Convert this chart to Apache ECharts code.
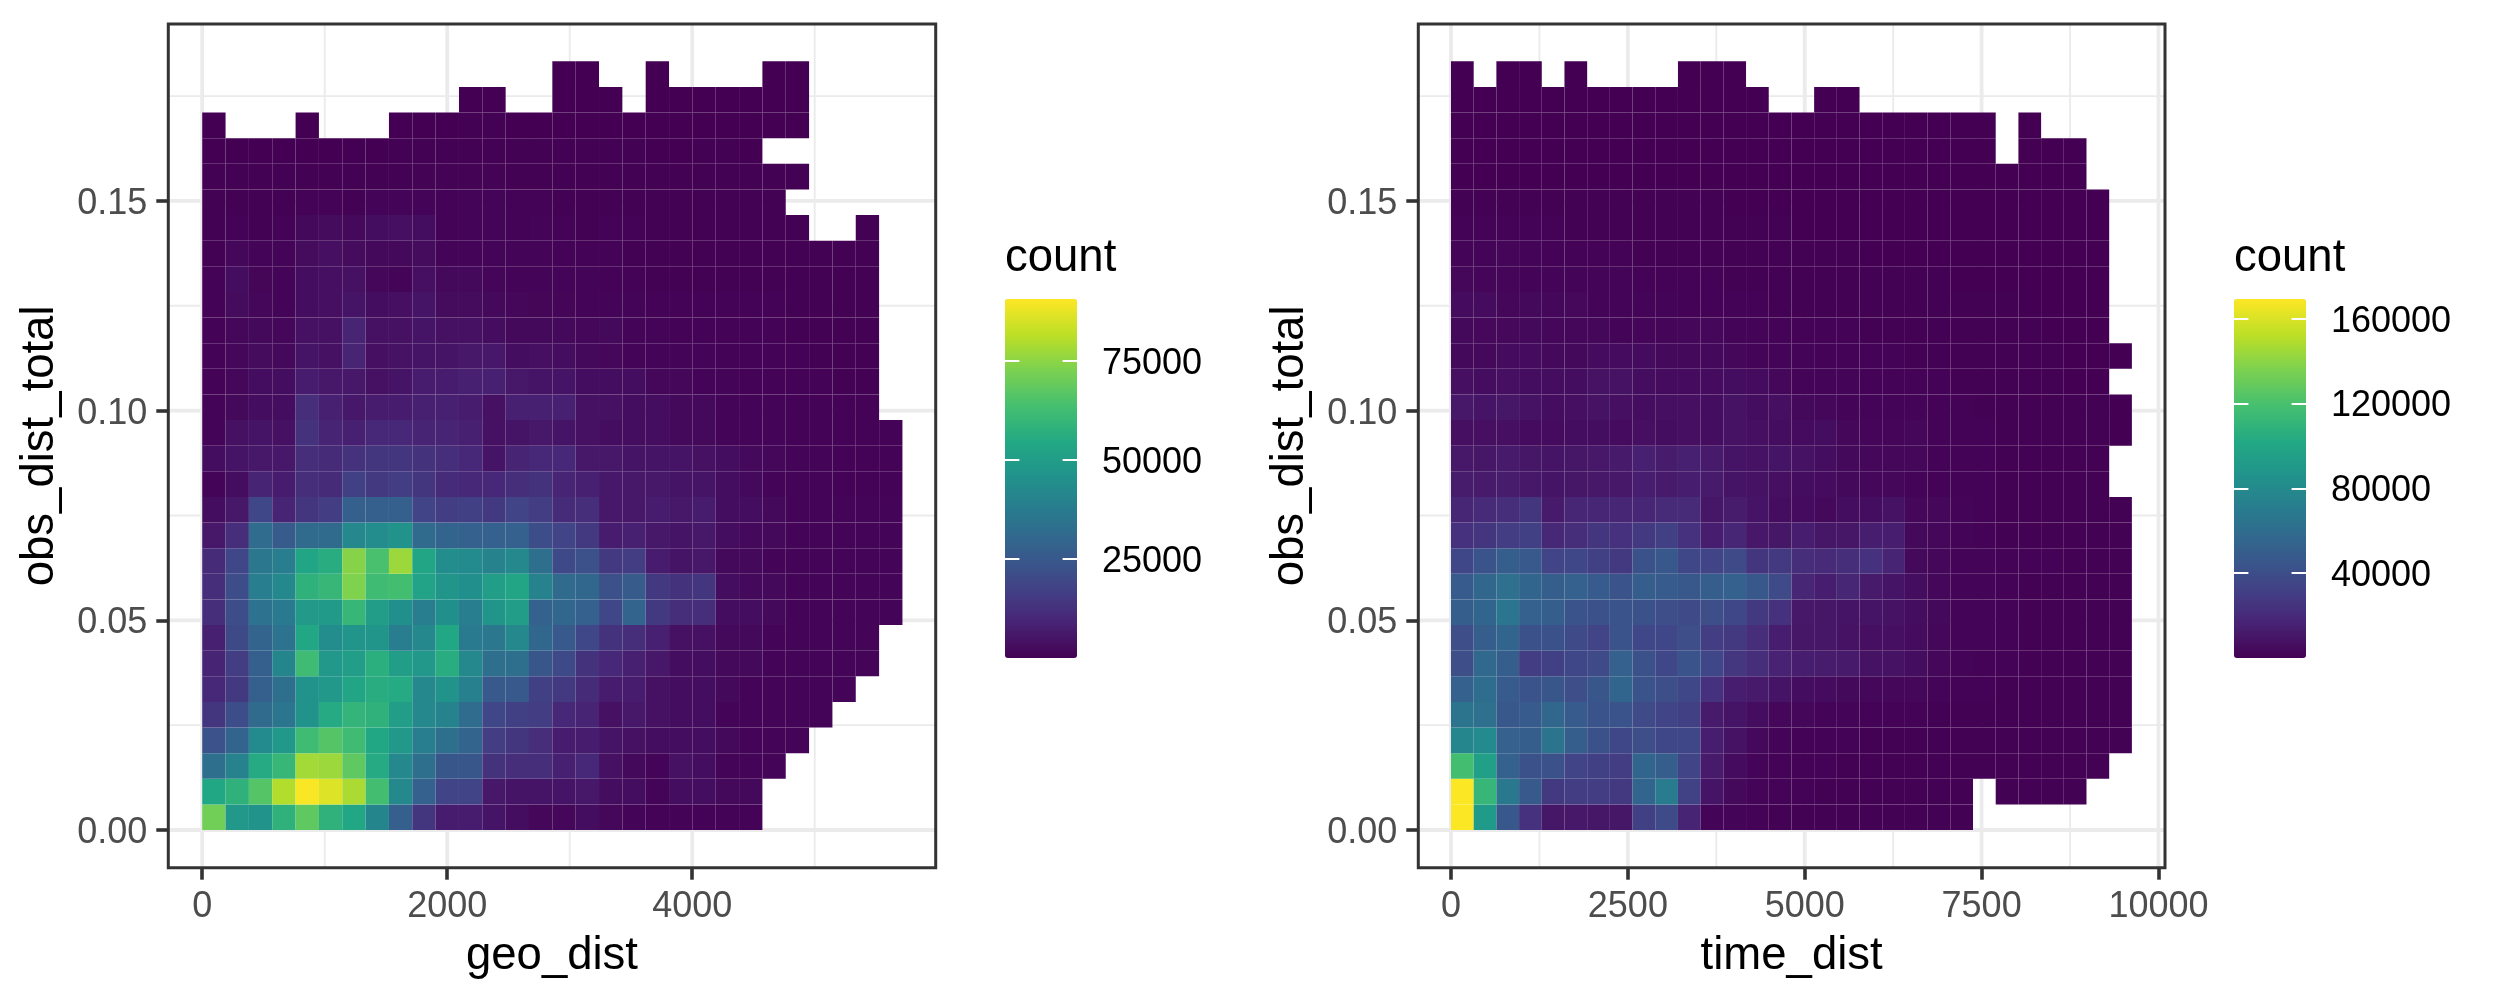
<!DOCTYPE html>
<html><head><meta charset="utf-8">
<style>html,body{margin:0;padding:0;background:#fff}#c{width:2500px;height:999px}</style>
<script src="https://cdn.jsdelivr.net/npm/echarts@6/dist/echarts.min.js"></script>
</head><body><div id="c"></div>
<script>
// counts in thousands; index = x-bin, row number = y-bin counted from the bottom
const geoRow00=[71,48,46,58,68,58,54,41,27,14,7,7,5,3,1.5,1.5,3,1.5,1,.5,.5,.5,.5,.5];
const geoRow01=[54,58,66,80,90,86,79,63,42,28,18,18,6,5,5,5,6,3,3,1,3,3,2,2];
const geoRow02=[33,40,55,60,78,77,68,55,42,33,24,24,13,12,12,8,10,4,2,1,4,3,1,1,1];
const geoRow03=[23,29,43,48,62,66,62,54,48,38,33,29,16,14,12,7,7,5,4,3,3,3,2,1,1,1];
const geoRow04=[14,21,31,35,46,55,59,58,50,42,40,32,19,17,16,10,9,4,6,4,3,3,1,1,1,1,1];
const geoRow05=[10,15,27,33,46,48,53,56,55,42,46,39,25,25,17,15,11,7,7,4,3,3,2,1,1,1,1,1];
const geoRow06=[9,16,27,41,62,48,50,57,50,48,56,42,33,33,24,20,13,10,8,6,3,3,2,2,1,1,1,1,1];
const geoRow07=[8,20,29,34,54,44,47,47,38,42,54,37,36,42,30,25,19,13,12,8,4,4,2,2,1,1,1,1,1];
const geoRow08=[12,21,34,37,49,49,60,50,45,38,45,38,47,50,28,30,28,19,29,15,12,12,3,3,2,1,1,1,1,1];
const geoRow09=[12,21,38,42,58,60,73,62,63,52,47,45,50,53,40,31,30,22,26,15,13,14,3,2,2,1,1,1,1,1];
const geoRow10=[11,19,36,38,53,56,74,64,77,53,44,43,40,42,33,20,22,15,16,7,5,6,2,2,1,1,1,1,1,1];
const geoRow11=[6,12,32,26,31,31,42,44,46,31,29,28,28,28,21,18,15,7,8,6,5,6,3,2,2,1,1,1,1,1];
const geoRow12=[3,6,19,9,14,16,27,27,27,18,16,17,15,18,16,11,12,6,6,7,6,7,3,3,2,1,1,1,1,1];
const geoRow13=[1,3,9,7,12,11,17,15,16,14,11,10,10,12,13,9,8,6,6,6,5,5,3,2,1,1,1,.5,.5,.5];
const geoRow14=[3,5,6,6,12,11,13,14,14,13,12,10,5,9,10,10,6,6,5,5,5,4,3,2,1.5,1,1,.5,.5,.5];
const geoRow15=[1,4,5,4,13,9,8,10,10,9,9,8,4,5,6,5,4,3,3,3,2,2,1,1,1,.5,.5,.5,.5,.5];
const geoRow16=[1,2,3,3,12,8,6,7,7,8,8,7,4,8,8,8,4,4,3,3,2,2,1,1,1,.5,.5,.5,.5];
const geoRow17=[.5,1.5,3,3,7,6,6,4,5,7,7,8,8,6,5,5,3,3,3,1.5,1.5,1,1,.5,.5,.5,.5,.3,.3];
const geoRow18=[.5,1.5,2.5,2,5,4,9,3.5,4.5,5,5,6,6,3,3.5,3,2,1.5,1,.7,.7,.7,.5,.5,.5,.5,.3,.3,.3];
const geoRow19=[.5,1.5,2,1.5,4,4,9,4,4,5,4,4,3,2,2,2,1.5,2,.7,.7,.5,.5,.5,.5,.5,.3,.3,.3,.3];
const geoRow20=[.5,2.5,1.5,1,3,3.5,5,3,3.5,5,2.5,2.5,2,1.5,1.2,1.2,1,.7,.7,.5,.5,.5,.5,.5,.5,.3,.3,.3,.3];
const geoRow21=[.5,3,1.2,1,3,3.5,4,1.5,1,3.5,2,2,1.3,1,1,.7,.7,.5,.5,.3,.3,.3,.3,.3,.3,.3,.3,.3,.3];
const geoRow22=[.3,1.5,.8,1,2.5,3.5,2.5,2,2,2.5,1,1,.8,.7,.7,.5,.5,.5,.3,.3,.3,.3,.3,.3,.3,.3,.3,.3,.3];
const geoRow23=[.3,.5,.3,.5,2,2.5,2,3,3.5,3,.5,1,1,.5,1,.5,.3,.5,.5,.3,.3,.3,.3,.3,.3,.3,null,null,.3];
const geoRow24=[.3,.3,.2,.3,.5,.5,.3,.7,1,.8,.6,.7,.7,.5,.5,.3,.3,.3,.3,.3,.3,.3,.3,.3,.3];
const geoRow25=[.2,.2,.2,.2,.2,.2,.2,.3,.3,.4,.4,.4,.4,.3,.3,.3,.2,.2,.2,.2,.2,.2,.2,.2,.3,.2];
const geoRow26=[.1,.1,.1,.1,.1,.1,.1,.1,.2,.2,.2,.2,.2,.2,.2,.2,.2,.2,.2,.1,.1,.2,.2,.1];
const geoRow27=[.1,null,null,null,.1,null,null,null,.1,.1,.1,.2,.2,.1,.1,.1,.1,.1,.1,.1,.1,.1,.1,.1,.1,.1];
const geoRow28=[null,null,null,null,null,null,null,null,null,null,null,.1,.1,null,null,.1,.1,.1,null,.1,.1,.1,.1,.1,.1,.1];
const geoRow29=[null,null,null,null,null,null,null,null,null,null,null,null,null,null,null,.1,.1,null,null,.1,null,null,null,null,.1,.1];
const geoRows=[geoRow00,geoRow01,geoRow02,geoRow03,geoRow04,geoRow05,geoRow06,geoRow07,geoRow08,geoRow09,geoRow10,geoRow11,geoRow12,geoRow13,geoRow14,geoRow15,geoRow16,geoRow17,geoRow18,geoRow19,geoRow20,geoRow21,geoRow22,geoRow23,geoRow24,geoRow25,geoRow26,geoRow27,geoRow28,geoRow29];

const timeRow00=[169,92,46,24,10,11,10,10,32,38,17,2,2,1,.5,.5,.5,.5,.5,.5,.5,.5,.5];
const timeRow01=[169,112,68,47,28,30,30,28,55,70,33,9,4,2,1,1,.5,.5,.5,.5,.5,.5,.5,null,.3,.3,.3,.3];
const timeRow02=[118,95,52,42,42,34,32,30,55,50,34,12,5,2,1,1,1,.5,.5,.5,.5,.5,.5,.5,.5,.3,.3,.3,.3];
const timeRow03=[78,80,52,50,64,50,42,36,40,36,36,14,8,4,2,1,1,1,.5,.5,.5,.5,.5,.5,.5,.5,.3,.3,.3,.3];
const timeRow04=[64,62,46,48,56,48,44,44,38,34,32,12,9,6,3,3,2,1.5,1,1,1,.5,.5,.5,.5,.5,.5,.3,.3,.3];
const timeRow05=[52,60,48,44,45,40,45,55,44,40,36,24,14,12,9,6,5,4,3,3,3,1.5,1,1,.5,.5,.5,.5,.3,.3];
const timeRow06=[40,57,50,30,32,36,38,52,42,36,44,36,27,22,16,14,13,12,8,8,6,3,2,1,1,.5,.5,.5,.3,.3];
const timeRow07=[40,50,55,42,42,38,34,44,36,36,40,30,28,22,14,10,10,8,7,7,5,3,2,1.5,1,.5,.5,.5,.3,.3];
const timeRow08=[50,55,66,52,50,44,42,44,42,40,38,40,36,28,24,11,10,9,9,8,6,4,2,2,1,.5,.5,.5,.3,.3];
const timeRow09=[48,56,62,55,50,52,48,44,50,48,46,50,52,46,38,18,14,18,12,9,6,3,2,1.5,1,.5,.5,.5,.3,.3];
const timeRow10=[36,44,50,47,34,36,32,28,42,46,36,34,38,26,28,22,20,22,24,17,4,3,2,1.5,1,1,1,.5,.3,.3];
const timeRow11=[24,26,30,32,19,22,26,24,28,32,24,14,18,11,10,14,10,10,14,14,4,3,2,1,.5,.5,.5,.5,.3,.3];
const timeRow12=[18,20,22,26,12,18,18,18,18,20,20,10,13,9,6,5,4,6,6,8,3,3,2,1,.5,.5,.5,.5,.3,.3];
const timeRow13=[13,12,13,11,9,10,11,11,14,12,14,12,9,8,7,6,5,4,3,3,2,1,1,1,.5,.5,.5,.3,.3];
const timeRow14=[11,10,12,10,9,10,11,12,15,13,15,12,9,8,9,8,6,4,3,3,3,1,1,1,.5,.5,.5,.3,.3];
const timeRow15=[7,7,7,5,5,6,6,5,7,6,7,6,8,7,6,5,6,3,2.5,2.5,3,1,1,1,.5,.5,.5,.3,.3,.2];
const timeRow16=[11,9,10,8,6,7,8,7,6,7,7,6,8,6,7,4,3,2,1.5,1.5,1.5,1,1,.5,.5,.5,.3,.3,.3,.2];
const timeRow17=[7,6,7,6,6,6,8,8,6,5,5,5,6,5,3,2,2,1.5,1,1,1,1,.5,.5,.5,.3,.3,.2,.2];
const timeRow18=[4,4,5,5,4,4,5,5,5,4,4,4,3,2,2,1.5,1,1,1,1,.5,.5,.5,.5,.3,.3,.3,.2,.2,.2];
const timeRow19=[4,3.5,3.5,4,3,3,3,2,2.5,2.5,3,3,2,1.5,1,1,1,1,.5,.5,.5,.5,.3,.3,.3,.3,.2,.2,.2];
const timeRow20=[5,5,3,4,3,3.5,2,1.5,1.5,1.5,1,1,1,1,.5,.5,.5,.5,.5,.5,.3,.3,.3,.3,.3,.2,.2,.2,.2];
const timeRow21=[3,2.5,2.5,2,2,2,1.5,1.5,1,1,1,1,.5,.5,.5,.5,.3,.3,.3,.3,.3,.3,.2,.2,.2,.2,.2,.2,.2];
const timeRow22=[1.5,1.5,2.5,1.5,1,1,1,1,.5,.5,.5,.5,.3,.3,.3,.3,.3,.3,.2,.2,.2,.2,.2,.2,.2,.2,.2,.2,.1];
const timeRow23=[1,1,1,1,1,.5,.5,.5,.5,.5,.5,.5,.3,.3,.3,.2,.2,.2,.2,.2,.2,.2,.2,.2,.2,.2,.1,.1,.1];
const timeRow24=[.5,.5,.5,.5,.5,.3,.3,.3,.3,.3,.3,.3,.2,.2,.2,.2,.2,.2,.2,.1,.1,.1,.1,.1,.1,.1,.1,.1,.1];
const timeRow25=[.2,.2,.2,.2,.2,.2,.2,.2,.2,.2,.2,.2,.1,.1,.1,.1,.1,.1,.1,.1,.1,.1,.1,.1,.1,.1,.1,.1];
const timeRow26=[.1,.1,.1,.1,.1,.1,.1,.1,.1,.1,.1,.1,.1,.1,.1,.1,.1,.1,.1,.1,.1,.1,.1,.1,null,.1,.1,.1];
const timeRow27=[.1,.1,.1,.1,.1,.1,.1,.1,.1,.1,.1,.1,.1,.1,.1,.1,.1,.1,.1,.1,.1,.1,.1,.1,null,.1];
const timeRow28=[.1,.1,.1,.1,.1,.1,.1,.1,.1,.1,.1,.1,.1,.1,null,null,.1,.1];
const timeRow29=[.1,null,.1,.1,null,.1,null,null,null,null,.1,.1,.1];
const timeRows=[timeRow00,timeRow01,timeRow02,timeRow03,timeRow04,timeRow05,timeRow06,timeRow07,timeRow08,timeRow09,timeRow10,timeRow11,timeRow12,timeRow13,timeRow14,timeRow15,timeRow16,timeRow17,timeRow18,timeRow19,timeRow20,timeRow21,timeRow22,timeRow23,timeRow24,timeRow25,timeRow26,timeRow27,timeRow28,timeRow29];

const geoTicks=[0,2000,4000], geoMinor=[1000,3000,5000];
const timeTicks=[0,2500,5000,7500,10000], timeMinor=[1250,3750,6250,8750];
const obsTicks=[0,0.05,0.10,0.15], obsMinor=[0.025,0.075,0.125,0.175];
const geoLegendTicks=[25000,50000,75000], timeLegendTicks=[40000,80000,120000,160000];
const geoBin=190.55, timeBin=320.8, obsBin=0.00611;
const geoMax=90550, timeMax=169300;
const viridis=['#440154','#482475','#414487','#355f8d','#2a788e','#21918c','#22a884','#44bf70','#7ad151','#bddf26','#fde725'];

const FONT='"Liberation Sans"';
const cells=rows=>{const d=[];rows.forEach((r,j)=>r.forEach((v,i)=>{if(v!==null)d.push([i,j,v*1000]);}));return d;};
const tiles=bin=>(params,api)=>{
  const i=api.value(0), j=api.value(1);
  const a=api.coord([i*bin,j*obsBin]), b=api.coord([(i+1)*bin,(j+1)*obsBin]);
  return {type:'rect',shape:{x:a[0],y:b[1],width:b[0]-a[0],height:a[1]-b[1]},style:{fill:api.visual('color')}};
};
const gridLines=(xMaj,xMin)=>[
  ...xMaj.map(v=>[0,v,3.8]),...xMin.map(v=>[0,v,1.9]),
  ...obsTicks.map(v=>[1,v,3.8]),...obsMinor.map(v=>[1,v,1.9])];
const renderGrid=(params,api)=>{
  const k=api.value(0),v=api.value(1),cs=params.coordSys;
  const p=api.coord(k===0?[v,0]:[0,v]);
  const shape=k===0?{x1:p[0],x2:p[0],y1:cs.y,y2:cs.y+cs.height}:{x1:cs.x,x2:cs.x+cs.width,y1:p[1],y2:p[1]};
  return {type:'line',shape,style:{stroke:'#ebebeb',lineWidth:api.value(2)}};
};
const shiftedLabel=(color,margin,ticks,fmt)=>({margin,customValues:ticks,
  formatter:v=>'{a|'+fmt(v)+'}',
  rich:{a:{fontFamily:FONT,fontSize:36,color,padding:[6,0,0,0]}}});
const panel=(idx,name,min,max,ticks,left,width)=>({
  grid:{left,top:24,width,height:843.7,show:true,z:5,backgroundColor:'transparent',borderColor:'#333333',borderWidth:3},
  xAxis:{gridIndex:idx,type:'value',min,max,name,nameLocation:'middle',nameGap:66,
    nameTextStyle:{fontFamily:FONT,fontSize:45.5,color:'#000'},
    splitLine:{show:false},axisLine:{show:false,onZero:false},
    axisTick:{show:true,length:12,lineStyle:{color:'#333333',width:3.6},customValues:ticks},
    axisLabel:{fontFamily:FONT,fontSize:36,color:'#4d4d4d',margin:21,customValues:ticks,formatter:v=>String(v)}},
  yAxis:{gridIndex:idx,type:'value',min:-0.00899,max:0.1922,name:'obs_dist_total',nameLocation:'middle',nameGap:105,
    nameTextStyle:{fontFamily:FONT,fontSize:45.5,color:'#000'},
    splitLine:{show:false},axisLine:{show:false,onZero:false},
    axisTick:{show:true,length:12,lineStyle:{color:'#333333',width:3.6},customValues:obsTicks},
    axisLabel:shiftedLabel('#4d4d4d',21,obsTicks,v=>v.toFixed(2))}
});
const p1=panel(0,'geo_dist',-277,5988,geoTicks,168.3,767.4);
const p2=panel(1,'time_dist',-462,10092,timeTicks,1418.3,746.7);
const legendAxes=(g,max,ticks)=>[
  {gridIndex:g,type:'value',min:0,max,position:'right',z:10,splitLine:{show:false},axisLine:{show:false,onZero:false},
   axisTick:{show:true,inside:true,length:14.4,lineStyle:{color:'#fff',width:2},customValues:ticks},
   axisLabel:shiftedLabel('#000',25,ticks,v=>String(v))},
  {gridIndex:g,type:'value',min:0,max,position:'left',z:10,splitLine:{show:false},axisLine:{show:false,onZero:false},
   axisTick:{show:true,inside:true,length:14.4,lineStyle:{color:'#fff',width:2},customValues:ticks},
   axisLabel:{show:false}}];
const legendGrid=left=>({left,top:299,width:72,height:359,show:false});
const titleFor=left=>({text:'count',left,top:235,padding:0,textStyle:{fontFamily:FONT,fontSize:45.5,fontWeight:'normal',color:'#000'}});
const colourBar=(seriesIndex,max,left)=>({type:'continuous',seriesIndex,dimension:2,min:0,max,left,top:299,itemWidth:72,itemHeight:359,padding:0,text:null,showLabel:false,calculable:false,hoverLink:false,inRange:{color:viridis}});
const option={
  animation:false,backgroundColor:'#fff',
  title:[titleFor(1005),titleFor(2234)],
  grid:[p1.grid,p2.grid,legendGrid(1005),legendGrid(2234)],
  xAxis:[p1.xAxis,p2.xAxis,{gridIndex:2,type:'value',show:false},{gridIndex:3,type:'value',show:false}],
  yAxis:[p1.yAxis,p2.yAxis,...legendAxes(2,geoMax,geoLegendTicks),...legendAxes(3,timeMax,timeLegendTicks)],
  visualMap:[colourBar(1,geoMax,1005),colourBar(3,timeMax,2234)],
  series:[
    {type:'custom',xAxisIndex:0,yAxisIndex:0,z:1,silent:true,clip:true,renderItem:renderGrid,data:gridLines(geoTicks,geoMinor)},
    {type:'custom',xAxisIndex:0,yAxisIndex:0,z:2,silent:true,clip:true,renderItem:tiles(geoBin),data:cells(geoRows)},
    {type:'custom',xAxisIndex:1,yAxisIndex:1,z:1,silent:true,clip:true,renderItem:renderGrid,data:gridLines(timeTicks,timeMinor)},
    {type:'custom',xAxisIndex:1,yAxisIndex:1,z:2,silent:true,clip:true,renderItem:tiles(timeBin),data:cells(timeRows)}
  ]
};
echarts.init(document.getElementById('c'),null,{renderer:'canvas'}).setOption(option);
</script></body></html>
